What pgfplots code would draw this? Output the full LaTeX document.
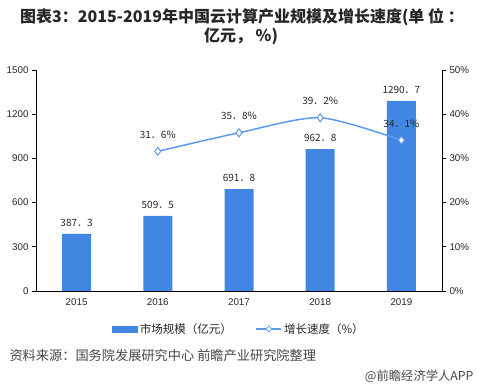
\documentclass[border=0pt]{standalone}
\usepackage{fontspec}
\setmainfont{Liberation Sans}
\newfontfamily\cjk{Noto Sans CJK SC}
\usepackage{pgfplots}
\pgfplotsset{compat=1.18}
\definecolor{barblue}{HTML}{4286E3}
\definecolor{lineblue}{HTML}{5E9BF0}
\definecolor{txt}{HTML}{262626}
\begin{document}
\begin{tikzpicture}
\useasboundingbox (0,0) rectangle (477pt,388pt);
\node[font=\cjk\bfseries\fontsize{16}{16}\selectfont, text=txt] at (242pt,371pt) {图表3：2015-2019年中国云计算产业规模及增长速度(单 位 ：};
\node[font=\cjk\bfseries\fontsize{16}{16}\selectfont, text=txt] at (241pt,352pt) {亿元，\ \%)};
\begin{axis}[
  at={(36pt,97pt)}, anchor=south west, scale only axis,
  width=406pt, height=221pt,
  xmin=-0.5, xmax=4.5, ymin=0, ymax=1500,
  axis y line*=left, axis x line*=bottom,
  xtick={0,1,2,3,4}, xticklabels={2015,2016,2017,2018,2019},
  x tick style={draw=none},
  extra x ticks={-0.5,0.5,1.5,2.5,3.5,4.5},
  extra x tick labels={},
  extra x tick style={major tick length=4pt, tick style={draw=black}},
  ytick={0,300,...,1500},
  tick align=outside, major tick length=4pt,
  tick style={black, line width=0.6pt},
  axis line style={black, line width=0.6pt},
  ticklabel style={font=\fontsize{9.8}{10}\selectfont, text=txt},
  /pgf/number format/assume math mode=true,
  yticklabel style={/pgf/number format/1000 sep={}},
  ]
  \addplot[ybar, bar width=29pt, fill=barblue, draw=none,
    nodes near coords={\pgfmathprintnumber[fixed,fixed zerofill,precision=1,1000 sep={},dec sep={．},assume math mode=true]{\pgfplotspointmeta}},
    nodes near coords style={font=\cjk\fontsize{10}{10}\selectfont, text=txt, anchor=south, yshift=4pt}]
  coordinates {(0,387.3) (1,509.5) (2,691.8) (3,962.8) (4,1290.7)};
\end{axis}
\begin{axis}[
  at={(36pt,97pt)}, anchor=south west, scale only axis,
  width=406pt, height=221pt,
  xmin=-0.5, xmax=4.5, ymin=0, ymax=50,
  axis y line*=right, axis x line=none,
  ytick={0,10,...,50},
  yticklabel={\pgfmathprintnumber{\tick}\%},
  tick align=outside, major tick length=4pt,
  tick style={black, line width=0.6pt},
  axis line style={black, line width=0.6pt},
  ticklabel style={font=\fontsize{9.8}{10}\selectfont, text=txt},
  /pgf/number format/assume math mode=true,
  legend style={at={(0.5,-0.172)}, anchor=center, draw=none, fill=none,
    font=\cjk\fontsize{11.5}{11.5}\selectfont, text=txt,
    /tikz/every even column/.append style={column sep=22pt}},
  legend columns=2,
  ]
  \addlegendimage{legend image code/.code={\fill[barblue] (0pt,-3pt) rectangle (25pt,3pt);}}
  \addlegendentry{市场规模（亿元）}
  \addplot[smooth, tension=0.45, color=lineblue, line width=1.5pt,
    mark=diamond*, mark size=4pt, mark options={fill=white, draw=lineblue, line width=1pt},
    nodes near coords={\pgfmathprintnumber[fixed,fixed zerofill,precision=1,dec sep={．},assume math mode=true]{\pgfplotspointmeta}\%},
    nodes near coords style={font=\cjk\fontsize{10}{10}\selectfont, text=txt, anchor=south, yshift=9pt},
    legend image code/.code={\draw[lineblue, line width=1.2pt] (0pt,0pt)--(25pt,0pt);
      \draw[lineblue, fill=white, line width=0.8pt] (12.5pt,3pt)--(15.5pt,0pt)--(12.5pt,-3pt)--(9.5pt,0pt)--cycle;}]
  coordinates {(1,31.6) (2,35.8) (3,39.2) (4,34.1)};
  \addlegendentry{增长速度（\%）}
\end{axis}
\node[anchor=west, font=\cjk\fontsize{13.2}{14}\selectfont, text=txt!85] at (6pt,33pt) {资料来源：国务院发展研究中心 前瞻产业研究院整理};
\node[anchor=east, font=\cjk\fontsize{12.3}{13}\selectfont, text=txt!85] at (477pt,12pt) {@前瞻经济学人APP};
\end{tikzpicture}
\end{document}
